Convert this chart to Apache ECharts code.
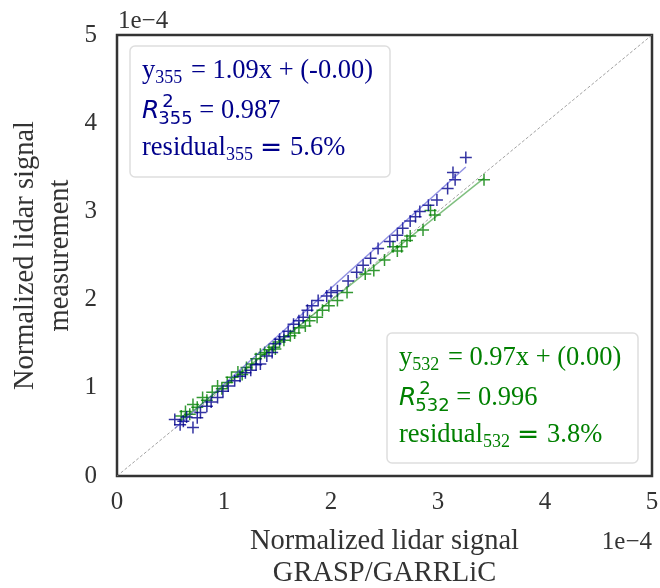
<!DOCTYPE html>
<html><head><meta charset="utf-8">
<script src="https://cdn.jsdelivr.net/npm/echarts@6/dist/echarts.min.js"></script>
<style>html,body{margin:0;padding:0;background:#fff}#c{width:660px;height:588px}</style>
</head><body><div id="c"></div>
<script>
// values in units of 1e-4
const axisTicks = [0, 1, 2, 3, 4, 5];
const blueX = [0.54,0.59,0.62,0.65,0.71,0.75,0.78,0.84,0.88,0.94,0.99,1.04,1.10,1.15,1.20,1.25,1.30,1.34,1.40,1.45,1.48,1.52,1.56,1.60,1.65,1.70,1.74,1.78,1.82,1.88,1.96,2.00,2.06,2.16,2.24,2.30,2.37,2.44,2.55,2.62,2.67,2.74,2.79,2.83,2.91,2.99,3.09,3.14,3.16,3.26];
const blueY = [0.64,0.58,0.62,0.67,0.55,0.66,0.72,0.79,0.84,0.89,0.96,1.02,1.08,1.13,1.17,1.20,1.26,1.27,1.36,1.40,1.50,1.55,1.58,1.64,1.72,1.76,1.80,1.88,1.93,1.99,2.04,2.08,2.10,2.21,2.31,2.39,2.47,2.58,2.66,2.73,2.81,2.89,2.94,3.00,3.07,3.13,3.26,3.44,3.36,3.61];
const greenX = [0.60,0.64,0.68,0.71,0.75,0.80,0.84,0.89,0.94,0.98,1.03,1.07,1.13,1.17,1.21,1.26,1.30,1.34,1.38,1.42,1.46,1.48,1.52,1.56,1.62,1.66,1.70,1.76,1.80,1.87,1.92,1.98,2.06,2.15,2.32,2.40,2.50,2.58,2.62,2.66,2.71,2.74,2.86,2.93,2.97,3.43];
const greenY = [0.68,0.73,0.70,0.81,0.78,0.89,0.86,0.95,1.02,0.99,1.06,1.12,1.18,1.15,1.23,1.27,1.33,1.38,1.40,1.43,1.46,1.44,1.52,1.54,1.59,1.62,1.68,1.70,1.76,1.80,1.88,1.93,1.99,2.08,2.29,2.33,2.45,2.60,2.55,2.60,2.67,2.72,2.79,3.01,2.96,3.36];
const fitSlopes = [1.09, 0.97];
const fitIntercepts = [-0.05, 0.05];
const eqText = ['1.09x + (-0.00)', '0.97x + (0.00)'];
const r2Text = ['0.987', '0.996'];
const residText = ['5.6%', '3.8%'];
const waveNames = ['355', '532'];

const BLUE = '#00008B', GREEN = '#008000';
const SERIF = 'Liberation Serif', SANS = 'DejaVu Sans';
const chart = echarts.init(document.getElementById('c'));
const GL = 117, GT = 35, GR = 8, GB = 112;

const ctx = document.createElement('canvas').getContext('2d');
function tw(t, size, fam, st) { ctx.font = (st || 'normal') + ' ' + size + 'px "' + fam + '"'; return ctx.measureText(t).width; }
function txt(t, x, yMid, size, fam, color, st, al) {
  return {type: 'text', x: x, y: yMid, z: 100, style: {text: t, fill: color, fontSize: size, fontFamily: fam, fontStyle: st || 'normal', align: al || 'left', verticalAlign: 'middle'}};
}
const M = 26.5, S = 18;
function box(i, bx, by, bw, bh, color) {
  const els = [];
  els.push({type: 'rect', z: 90, shape: {x: bx, y: by, width: bw, height: bh, r: 5}, style: {fill: 'rgba(255,255,255,0.85)', stroke: '#dedede', lineWidth: 1.5}});
  const x0 = bx + 12;
  const mid = (b) => b - 0.33 * M;
  let b1 = by + 34, x = x0;
  els.push(txt('y', x, mid(b1), M, SERIF, color)); x += tw('y', M, SERIF);
  els.push(txt(waveNames[i], x, mid(b1) + 7, S, SERIF, color)); x += tw(waveNames[i], S, SERIF) + 2;
  els.push(txt(' = ' + eqText[i], x, mid(b1), M, SERIF, color));
  let b2 = by + 74; x = x0;
  els.push(txt('R', x, mid(b2), 25, SANS, color, 'italic')); const rw = tw('R', 25, SANS, 'italic');
  els.push(txt('2', x + rw + 3, mid(b2) - 9, S, SANS, color));
  els.push(txt(waveNames[i], x + rw - 1, mid(b2) + 8, S, SANS, color));
  x = x + rw - 1 + tw(waveNames[i], S, SANS);
  els.push(txt(' = ' + r2Text[i], x, mid(b2), M, SERIF, color));
  let b3 = by + 111; x = x0;
  els.push(txt('residual', x, mid(b3), M, SERIF, color)); x += tw('residual', M, SERIF);
  els.push(txt(waveNames[i], x, mid(b3) + 7, S, SERIF, color)); x += tw(waveNames[i], S, SERIF) + 7;
  els.push(txt('=', x, mid(b3) + 1, M, SANS, color)); x += tw('=', M, SANS) + 8;
  els.push(txt(residText[i], x, mid(b3), M, SERIF, color));
  return els;
}

function pts(xs, ys) { return xs.map((v, k) => [v, ys[k]]); }
function fitLine(i, xs) {
  const a = Math.min.apply(null, xs), b = Math.max.apply(null, xs);
  return [[a, fitSlopes[i] * a + fitIntercepts[i]], [b, fitSlopes[i] * b + fitIntercepts[i]]];
}
const plus = 'path://M0,6L12,6M6,0L6,12';
const lab = {fontSize: 25, fontFamily: SERIF, color: '#333'};

const graphics = [].concat(
  box(0, 130, 46, 260, 131, BLUE),
  box(1, 387, 333, 251, 130, GREEN),
  [txt('1e\u22124', GL + 1, 21, 25, SERIF, '#333'), txt('1e\u22124', 660 - GR, 542, 25, SERIF, '#333', null, 'right')]
);

chart.setOption({
  animation: false,
  backgroundColor: '#fff',
  grid: {left: GL, top: GT, right: GR, bottom: GB, outerBoundsMode: 'none', containLabel: false,
    show: true, borderColor: '#333', borderWidth: 2.5, backgroundColor: '#fff'},
  xAxis: {type: 'value', min: axisTicks[0], max: axisTicks[axisTicks.length - 1], interval: 1,
    axisLine: {show: false}, axisTick: {show: false}, splitLine: {show: false},
    axisLabel: Object.assign({margin: 14}, lab),
    name: 'Normalized lidar signal\nGRASP/GARRLiC', nameLocation: 'middle', nameGap: 50,
    nameTextStyle: {fontSize: 28.5, fontFamily: SERIF, color: '#333', lineHeight: 32}},
  yAxis: {type: 'value', min: axisTicks[0], max: axisTicks[axisTicks.length - 1], interval: 1,
    axisLine: {show: false}, axisTick: {show: false}, splitLine: {show: false},
    axisLabel: Object.assign({margin: 20}, lab),
    name: 'Normalized lidar signal\nmeasurement', nameLocation: 'middle', nameGap: 39, nameMoveOverlap: false,
    nameTextStyle: {fontSize: 28.5, fontFamily: SERIF, color: '#333', lineHeight: 35}},
  graphic: graphics,
  series: [
    {type: 'line', data: [[axisTicks[0], axisTicks[0]], [axisTicks[5], axisTicks[5]]], symbol: 'none', silent: true,
      lineStyle: {color: '#8a8a8a', width: 0.8, type: [3, 2]}, z: 1},
    {type: 'scatter', data: pts(greenX, greenY), symbol: plus, symbolSize: 12,
      itemStyle: {color: 'rgba(0,0,0,0)', borderColor: GREEN, borderWidth: 1.5}, z: 2},
    {type: 'scatter', data: pts(blueX, blueY), symbol: plus, symbolSize: 12,
      itemStyle: {color: 'rgba(0,0,0,0)', borderColor: BLUE, borderWidth: 1.5}, z: 3},
    {type: 'line', data: fitLine(0, blueX), symbol: 'none', silent: true,
      lineStyle: {color: 'rgba(40,40,200,0.5)', width: 1.5}, z: 4},
    {type: 'line', data: fitLine(1, greenX), symbol: 'none', silent: true,
      lineStyle: {color: 'rgba(0,128,0,0.5)', width: 1.5}, z: 4}
  ]
});
</script></body></html>
